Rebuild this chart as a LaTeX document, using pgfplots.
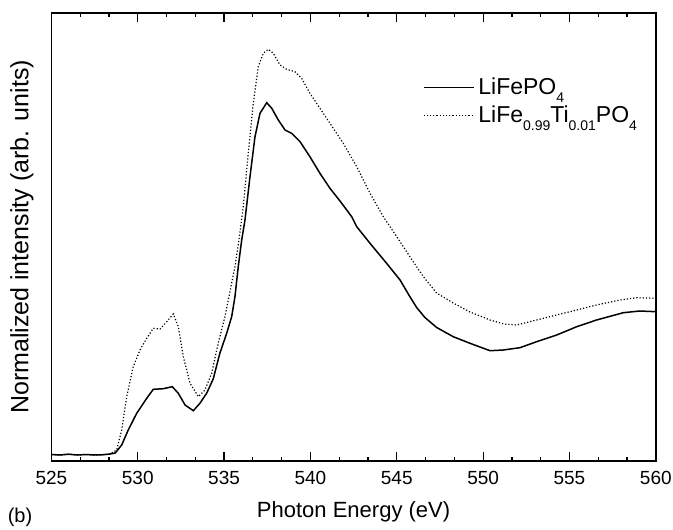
\documentclass[border=0pt]{standalone}
\usepackage{fontspec}
\setmainfont{Liberation Sans}
\usepackage{pgfplots}
\pgfplotsset{compat=1.18}
\newcommand{\sub}[1]{\raisebox{-4pt}{\fontsize{7}{8}\selectfont #1}}
\begin{document}
\begin{tikzpicture}
\begin{axis}[
  scale only axis,
  width=302.2pt, height=224pt,
  xmin=525, xmax=560, ymin=0, ymax=448,
  xtick={525,530,...,560},
  minor x tick num=2,
  ytick=\empty,
  tick align=inside,
  xtick pos=both,
  major tick length=4.5pt,
  minor tick length=2pt,
  axis line style={line width=0.9pt},
  every tick/.style={black, line width=0.6pt},
  /pgf/number format/assume math mode=true,
  /pgf/number format/1000 sep={},
  xticklabel style={font=\fontsize{9.5}{11}\selectfont, anchor=center, yshift=-8.5pt},
  xlabel={Photon Energy (eV)},
  xlabel style={font=\fontsize{11}{13}\selectfont, at={(axis description cs:0.5,-0.114)}, anchor=center},
  ylabel={Normalized intensity (arb. units)},
  ylabel style={font=\fontsize{12.5}{14}\selectfont, at={(axis description cs:-0.0486,0.5)}, anchor=center, rotate=0},
  legend style={draw=none, fill=none, at={(0.614,0.865)}, anchor=north west, inner sep=0pt,
    font=\fontsize{11.5}{13}\selectfont, row sep=0pt},
  legend cell align=left,
  legend image code/.code={\draw[#1] (0pt,0pt) -- (25pt,0pt);},
]
\addplot[black, line width=0.75pt] coordinates {
(525.0,6.5) (525.5,6) (526.0,6.8) (526.5,6) (527.0,6.5) (527.5,6) (528.0,6.3) (528.4,7) (528.7,8)
(529.07,16) (529.45,31) (529.94,47.7) (530.52,62.7) (530.9,71.7) (531.48,72.3) (532.0,74.3)
(532.35,67.7) (532.74,56) (533.22,50.3) (533.6,57.7) (533.99,67.7) (534.37,82) (534.76,108)
(535.15,127.7) (535.44,144.3) (535.63,164.3) (535.82,194.3) (536.02,221) (536.21,241)
(536.5,284.3) (536.79,324.3) (537.08,347.7) (537.47,358.3) (537.76,352.7) (538.14,341)
(538.53,331) (538.91,327.7) (539.4,319.3) (539.97,304.3) (540.55,287.7) (541.13,272.7)
(541.71,260) (542.39,244.3) (542.68,234.3) (543.45,217.7) (544.41,197.7) (545.19,181)
(545.76,164.3) (546.15,153.5) (546.63,143.5) (547.31,133.5) (548.27,124.3) (549.24,117.7)
(550.4,110.3) (551.17,111) (552.13,113.3) (553.1,119.3) (554.26,126) (555.42,134.3)
(556.57,141) (558.12,148.3) (559.08,150) (560.0,149.3)
};
\addlegendentry{LiFePO\sub{4}}
\addplot[black, line width=0.6pt, densely dotted] coordinates {
(525.0,6.5) (525.5,6) (526.0,6.8) (526.5,6) (527.0,6.5) (527.5,6) (528.0,6.3) (528.4,7)
(528.78,11) (529.07,31) (529.36,64.3) (529.74,94.3) (530.13,111) (530.52,122.7) (530.9,132.7)
(531.29,132) (531.68,139.3) (532.06,147) (532.35,134.3) (532.64,104.3) (533.03,77.7)
(533.51,64.3) (533.89,71) (534.28,87.7) (534.66,117.7) (535.05,144.3) (535.63,194.3)
(535.86,221) (536.11,254.3) (536.4,307.7) (536.69,357.7) (536.98,394.3) (537.27,407.7)
(537.56,411.7) (537.85,407.7) (538.24,396) (538.62,391.7) (539.1,389.3) (539.49,382.7)
(539.97,367.7) (540.55,352.7) (541.13,337.7) (541.9,317.7) (542.68,294.3) (543.45,267.7)
(544.22,244.3) (545.0,224.3) (545.76,204.3) (546.54,184.3) (547.31,168) (548.27,158)
(549.24,149) (550.4,141) (551.2,137) (551.94,136) (553.1,141) (554.26,146) (555.42,151)
(556.57,156) (557.93,161) (558.9,163.3) (560,162.7)
};
\addlegendentry{LiFe\sub{0.99}Ti\sub{0.01}PO\sub{4}}
\end{axis}
\node[font=\fontsize{10}{12}\selectfont] at ([xshift=-15.7pt,yshift=-28pt]current axis.south west) {(b)};
\pgfresetboundingbox
\path ([xshift=-25.7pt,yshift=-34pt]current axis.south west) rectangle ([xshift=8.6pt,yshift=6.5pt]current axis.north east);
\end{tikzpicture}
\end{document}
